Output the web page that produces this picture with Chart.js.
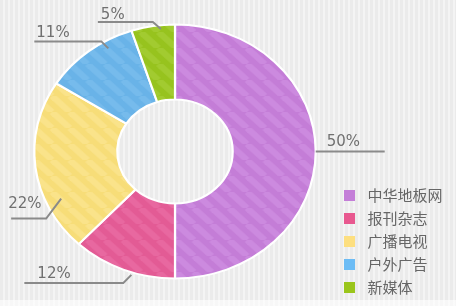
<!DOCTYPE html>
<html>
<head>
<meta charset="utf-8">
<script src="https://cdn.jsdelivr.net/npm/chart.js@4.4.0/dist/chart.umd.min.js"></script>
<style>
html, body { margin: 0; padding: 0; background: #fff; }
#wrap {
  position: relative; width: 456px; height: 306px;
  background:
    linear-gradient(to bottom, rgba(255,255,255,0) 300px, rgba(255,255,255,0.6) 300px),
    repeating-linear-gradient(90deg, #ebebeb 0, #ebebeb 3px, #f4f4f4 3px, #f4f4f4 5px);
}
</style>
</head>
<body>
<div id="wrap"><canvas id="myChart"></canvas></div>
<script>
// data
const categories = ["中华地板网", "报刊杂志", "广播电视", "户外广告", "新媒体"];
const shares = [50, 12, 22, 11, 5];

// colours
const baseColors = ["#c47dd7", "#e35b95", "#f7dd78", "#69b3e8", "#97c31e"];
const stripeColors = ["#cc8adf", "#e868a0", "#fae38a", "#76bbec", "#a2cb30"];
const legendColors = ["#c47ed8", "#e8588f", "#fddf80", "#6cbcf5", "#9ac51b"];

// leader line layout per slice (t = position inside slice, r = radius factor)
const leaders = [
  { t: 0.5,  r: 1.0,  kx: 0,   ky: 0,  len: 69, side: 1,  lx: 11, ly: -6 },
  { t: 0.41, r: 1.02, kx: -8,  ky: 8,  len: 99, side: -1, lx: 13, ly: -5 },
  { t: 0.28, r: 0.89, kx: -15, ky: 20, len: 35, side: -1, lx: -3, ly: -11 },
  { t: 0.69, r: 0.94, kx: -7,  ky: -7, len: 67, side: -1, lx: 2,  ly: -4 },
  { t: 0.67, r: 0.97, kx: -8,  ky: -7, len: 55, side: -1, lx: 3,  ly: -3 },
];

const SX = 1.108; // the original ring is a bit wider than tall

const canvas = document.getElementById("myChart");
const mainCtx = canvas.getContext("2d");

function stripes(base, light) {
  const c = document.createElement("canvas");
  c.width = 16; c.height = 16;
  const g = c.getContext("2d");
  g.fillStyle = base;
  g.fillRect(0, 0, 16, 16);
  g.strokeStyle = light;
  g.lineWidth = 6;
  for (const k of [-16, 0, 16]) {
    g.beginPath(); g.moveTo(k, 0); g.lineTo(k + 16, 16); g.stroke();
  }
  return mainCtx.createPattern(c, "repeat");
}

function swatch(color) {
  const c = document.createElement("canvas");
  c.width = 16; c.height = 11;
  const g = c.getContext("2d");
  g.fillStyle = color;
  g.fillRect(0, 0, 11, 11);
  return c;
}

const stretch = {
  id: "stretch",
  beforeDatasetsDraw(chart) {
    const ctx = chart.ctx;
    const cx = chart.getDatasetMeta(0).data[0].x;
    ctx.save();
    ctx.translate(cx, 0);
    ctx.scale(SX, 1);
    ctx.translate(-cx, 0);
  },
  afterDatasetsDraw(chart) {
    chart.ctx.restore();
  },
};

const leaderLines = {
  id: "leaderLines",
  afterDraw(chart) {
    const ctx = chart.ctx;
    const arcs = chart.getDatasetMeta(0).data;
    ctx.save();
    ctx.strokeStyle = "#8a8a8a";
    ctx.lineWidth = 2;
    ctx.fillStyle = "#707070";
    ctx.font = '15px "DejaVu Sans", sans-serif';
    ctx.textBaseline = "alphabetic";
    arcs.forEach((arc, i) => {
      const L = leaders[i];
      const a = arc.startAngle + L.t * (arc.endAngle - arc.startAngle);
      const R = arc.outerRadius * L.r;
      const px = arc.x + Math.cos(a) * R * SX;
      const py = arc.y + Math.sin(a) * R;
      const kx = px + L.kx, ky = py + L.ky;
      const ex = kx + L.side * L.len;
      ctx.beginPath();
      ctx.moveTo(px, py);
      ctx.lineTo(kx, ky);
      ctx.lineTo(ex, ky);
      ctx.stroke();
      ctx.fillText(shares[i] + "%", Math.min(kx, ex) + L.lx, ky + L.ly);
    });
    ctx.restore();
  },
};

const config = {
  type: "doughnut",
  data: {
    labels: categories,
    datasets: [
      {
        data: shares,
        backgroundColor: baseColors.map((c, i) => stripes(c, stripeColors[i])),
        borderColor: "#ffffff",
        borderWidth: 2,
        radius: 127,
        cutout: "41%",
        hoverOffset: 0,
      },
    ],
  },
  options: {
    responsive: true,
    maintainAspectRatio: false,
    animation: false,
    layout: { padding: { left: 14, right: 3.5, top: -3, bottom: 3 } },
    plugins: {
      tooltip: { enabled: false },
      legend: {
        position: "right",
        align: "end",
        labels: {
          font: { size: 15, family: '"Noto Sans CJK SC", sans-serif' },
          color: "#666666",
          padding: 8,
          usePointStyle: true,
          pointStyleWidth: 16,
          generateLabels: () =>
            categories.map((c, i) => ({
              text: c,
              fillStyle: legendColors[i],
              strokeStyle: legendColors[i],
              lineWidth: 0,
              pointStyle: swatch(legendColors[i]),
              fontColor: "#666666",
              hidden: false,
              index: i,
            })),
        },
      },
    },
  },
  plugins: [stretch, leaderLines],
};

const myChart = new Chart(canvas, config);
</script>
</body>
</html>
